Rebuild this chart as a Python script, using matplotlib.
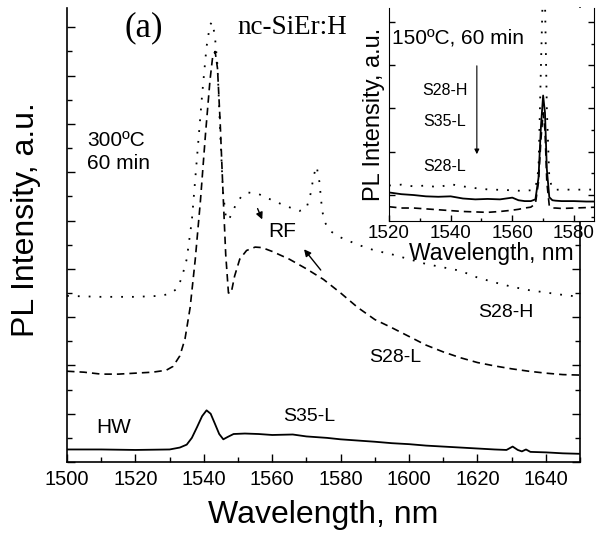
import matplotlib.pyplot as plt
from matplotlib.ticker import MultipleLocator

plt.rcParams['font.family'] = ['Liberation Sans', 'DejaVu Sans']

# main panel: 300C, 60 min
x_h = [1500, 1510, 1520, 1527, 1530, 1532, 1533.5, 1535, 1536.5, 1538, 1539.5, 1540.8, 1541.8, 1542.4,
       1543.2, 1544, 1544.8, 1545.6, 1546.4, 1547.2, 1548.2, 1549.5, 1551, 1553, 1556, 1560, 1564, 1568,
       1570, 1571.2, 1572.2, 1573, 1573.8, 1574.6, 1575.5, 1577, 1580, 1585, 1590, 1595, 1600, 1605,
       1610, 1615, 1620, 1625, 1630, 1635, 1640, 1645, 1650]
s28_h = [3.44, 3.42, 3.42, 3.44, 3.48, 3.58, 3.8, 4.2, 5.0, 6.3, 7.6, 8.6, 9.05, 9.11,
         8.85, 8.2, 6.8, 5.6, 5.1, 5.0, 5.15, 5.35, 5.5, 5.58, 5.55, 5.42, 5.3, 5.2,
         5.25, 5.55, 5.95, 6.12, 5.8, 5.2, 4.95, 4.78, 4.65, 4.5, 4.38, 4.3, 4.2, 4.1,
         4.03, 3.96, 3.82, 3.72, 3.63, 3.56, 3.51, 3.46, 3.42]

x_l = [1500, 1505, 1510, 1515, 1520, 1525, 1529, 1531, 1533, 1534.5, 1536, 1537.5, 1539, 1540.5,
       1541.8, 1542.6, 1543.3, 1544, 1544.8, 1545.6, 1546.4, 1547.2, 1548, 1549, 1550.5, 1552.5,
       1555, 1557, 1560, 1565, 1570, 1575, 1580, 1585, 1590, 1595, 1600, 1605, 1610, 1615, 1620,
       1625, 1630, 1635, 1640, 1645, 1650]
s28_l = [1.88, 1.86, 1.82, 1.82, 1.84, 1.86, 1.9, 1.98, 2.2, 2.55, 3.2, 4.2, 5.4, 6.8,
         7.9, 8.4, 8.5, 8.15, 7.0, 5.6, 4.3, 3.5, 3.5, 3.85, 4.2, 4.38,
         4.45, 4.44, 4.36, 4.2, 4.0, 3.78, 3.5, 3.2, 2.95, 2.78, 2.6, 2.42, 2.28, 2.16, 2.06,
         1.99, 1.93, 1.88, 1.84, 1.81, 1.8]

x_s = [1500, 1510, 1520, 1530, 1533, 1535, 1536.5, 1538, 1539.5, 1540.8, 1542, 1543.2, 1544.5,
       1545.7, 1547, 1548.7, 1552, 1556, 1560, 1566, 1570, 1576, 1580, 1586, 1590, 1595, 1600,
       1605, 1610, 1615, 1620, 1625, 1628.5, 1630.3, 1631.8, 1633, 1634.2, 1635.5, 1640, 1645, 1650]
s35_l = [0.26, 0.26, 0.25, 0.26, 0.3, 0.36, 0.5, 0.72, 0.95, 1.07, 1.0, 0.8, 0.58,
         0.47, 0.52, 0.58, 0.59, 0.58, 0.56, 0.57, 0.53, 0.5, 0.47, 0.44, 0.42, 0.39, 0.37,
         0.34, 0.32, 0.3, 0.28, 0.26, 0.25, 0.32, 0.25, 0.22, 0.26, 0.21, 0.2, 0.18, 0.17]

# inset: 150C, 60 min
x_in = [1520, 1524, 1528, 1532, 1536, 1540, 1544, 1548, 1552, 1556, 1560, 1562, 1564, 1566,
        1567.5, 1568.5, 1569.3, 1570, 1570.6, 1571.2, 1572, 1573, 1574, 1576, 1580, 1584, 1587]
in_h = [0.22, 0.24, 0.2, 0.22, 0.18, 0.25, 0.2, 0.16, 0.13, 0.12, 0.11, 0.1, 0.1, 0.11,
        0.15, 0.6, 3.0, 5.0, 4.5, 2.0, 0.4, 0.14, 0.12, 0.13, 0.12, 0.13, 0.12]
in_s35 = [0.06, 0.02, 0.0, -0.03, -0.04, -0.03, -0.08, -0.1, -0.09, -0.1, -0.06, -0.12, -0.14, -0.14,
          -0.1, 0.4, 1.6, 2.3, 1.9, 0.6, -0.05, -0.12, -0.13, -0.14, -0.14, -0.15, -0.15]
in_l = [-0.27, -0.3, -0.3, -0.32, -0.34, -0.36, -0.38, -0.39, -0.4, -0.38, -0.35, -0.33, -0.3, -0.28,
        -0.2, 0.3, 1.3, 1.9, 1.5, 0.3, -0.25, -0.3, -0.3, -0.31, -0.3, -0.29, -0.28]

dot = (0, (1, 5))
dash = (0, (4.5, 3))

fig = plt.figure(figsize=(6, 5.35), dpi=100)
ax = fig.add_axes([0.1117, 0.1364, 0.855, 0.8486])

ax.plot(x_h, s28_h, color='black', lw=1.3, linestyle=dot)
ax.plot(x_l, s28_l, color='black', lw=1.2, linestyle=dash)
ax.plot(x_s, s35_l, color='black', lw=1.3)

ax.set_xlim(1500, 1650)
ax.set_ylim(0, 9.4)
ax.xaxis.set_major_locator(MultipleLocator(20))
ax.xaxis.set_minor_locator(MultipleLocator(10))
ax.yaxis.set_major_locator(MultipleLocator(1))
ax.yaxis.set_minor_locator(MultipleLocator(0.5))
ax.tick_params(which='both', direction='in', right=True, top=False, labelleft=False, width=1)
ax.tick_params(which='major', length=6)
ax.tick_params(which='minor', length=3.5)
ax.tick_params(axis='x', labelsize=14.5, pad=6)
ax.spines['top'].set_visible(False)
for s in ['left', 'right', 'bottom']:
    ax.spines[s].set_linewidth(1.2)

ax.set_xlabel('Wavelength, nm', fontsize=23, labelpad=8)
ax.set_ylabel('PL Intensity, a.u.', fontsize=23)
ax.yaxis.set_label_coords(-0.05, 0.535)

ax.text(1522.3, 8.99, '(a)', family='Liberation Serif', fontsize=25, ha='center', va='center')
ax.text(1565.9, 9.0, 'nc-SiEr:H', family='Liberation Serif', fontsize=19.5, ha='center', va='center')
ax.text(1505.9, 6.85, '300ºC\n60 min', fontsize=15, ha='left', va='top', linespacing=1.25)
ax.text(1563, 4.78, 'RF', fontsize=15, ha='center', va='center')
ax.text(1513.5, 0.72, 'HW', fontsize=15, ha='center', va='center')
ax.text(1570.9, 0.95, 'S35-L', fontsize=14, ha='center', va='center')
ax.text(1596.1, 2.17, 'S28-L', fontsize=14, ha='center', va='center')
ax.text(1628.3, 3.1, 'S28-H', fontsize=14, ha='center', va='center')

arrow = dict(arrowstyle='-|>', color='black', lw=1, mutation_scale=10)
ax.annotate('', xy=(1557.4, 4.97), xytext=(1555.4, 5.30), arrowprops=arrow)
ax.annotate('', xy=(1568.8, 4.45), xytext=(1574.7, 3.93), arrowprops=arrow)

# inset
axi = fig.add_axes([0.6483, 0.5869, 0.3417, 0.398])
axi.plot(x_in, in_h, color='black', lw=1.3, linestyle=dot)
axi.plot(x_in, in_l, color='black', lw=1.2, linestyle=dash)
axi.plot(x_in, in_s35, color='black', lw=1.3)
axi.set_xlim(1520, 1586.5)
axi.set_ylim(-0.6, 4.32)
axi.xaxis.set_major_locator(MultipleLocator(20))
axi.xaxis.set_minor_locator(MultipleLocator(10))
axi.yaxis.set_major_locator(MultipleLocator(1))
axi.yaxis.set_minor_locator(MultipleLocator(0.5))
axi.tick_params(which='both', direction='in', right=True, top=False, labelleft=False, width=1)
axi.tick_params(which='major', length=4)
axi.tick_params(which='minor', length=2.5)
axi.tick_params(axis='y', which='minor', left=False)
axi.tick_params(axis='x', labelsize=13.5, pad=3)
axi.spines['top'].set_visible(False)
axi.set_xlabel('Wavelength, nm', fontsize=16.5, labelpad=0)
axi.set_ylabel('PL Intensity, a.u.', fontsize=17, labelpad=3)

axi.text(1521, 3.51, '150ºC, 60 min', fontsize=15, ha='left', va='baseline')
axi.text(1538.2, 2.42, 'S28-H', fontsize=11.5, ha='center', va='center')
axi.text(1538.2, 1.69, 'S35-L', fontsize=11.5, ha='center', va='center')
axi.text(1538.2, 0.67, 'S28-L', fontsize=11.5, ha='center', va='center')
axi.annotate('', xy=(1548.5, 0.88), xytext=(1548.5, 3.05),
             arrowprops=dict(arrowstyle='-|>', color='black', lw=0.8, mutation_scale=7))

plt.savefig('out.png', dpi=100)
